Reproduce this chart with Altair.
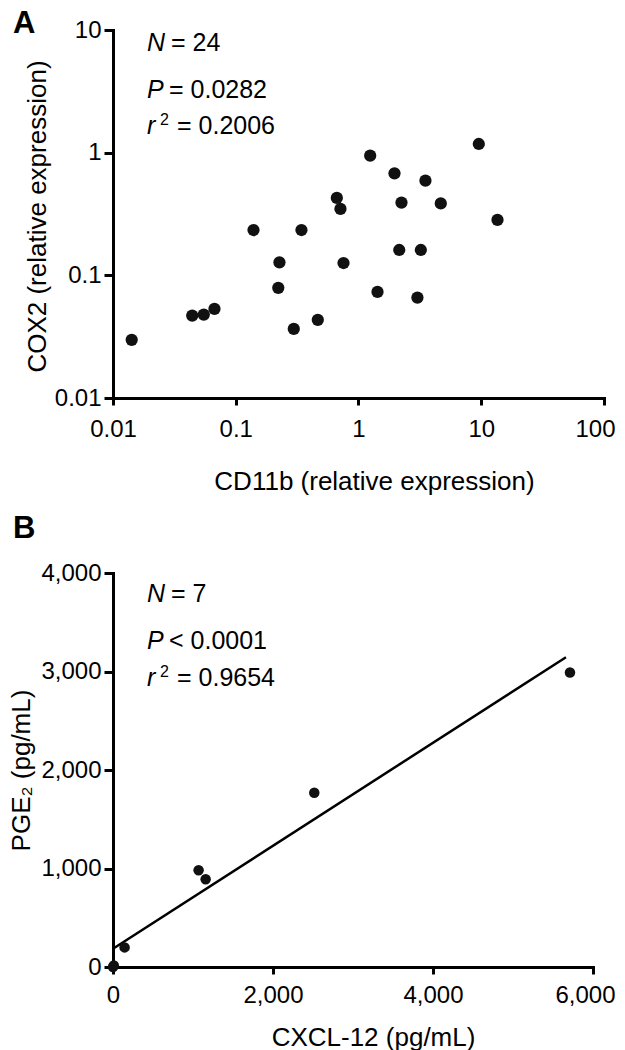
import altair as alt
import pandas as pd

# Panel A data
cd11b = [0.0142, 0.0442, 0.0549, 0.0671, 0.1395, 0.227, 0.222, 0.343, 0.297, 0.466,
         0.666, 0.713, 0.755, 1.245, 1.428, 1.964, 2.24, 2.147, 3.51, 3.22, 3.02,
         4.68, 9.55, 13.56]
cox2 = [0.0298, 0.047, 0.0479, 0.0533, 0.234, 0.1277, 0.0791, 0.234, 0.0366, 0.0434,
        0.428, 0.348, 0.126, 0.945, 0.0733, 0.678, 0.392, 0.161, 0.591, 0.161, 0.0659,
        0.386, 1.177, 0.283]
a_ticks_x = [0.01, 0.1, 1, 10, 100]
a_ticks_y = [0.01, 0.1, 1, 10]

# Panel B data
cxcl12 = [0, 10, 145, 1070, 1158, 2516, 5712]
pge2 = [0, 15, 199, 982, 891, 1769, 2990]
b_ticks_x = [0, 2000, 4000, 6000]
b_ticks_y = [0, 1000, 2000, 3000, 4000]

FONT = "Liberation Sans"
ANN = 25

dfA = pd.DataFrame({"cd11b": cd11b, "cox2": cox2})
dfB = pd.DataFrame({"cxcl12": cxcl12, "pge2": pge2})
one = pd.DataFrame({"k": [0]})


def txt(s, x, y, size=ANN, style="normal", weight="normal"):
    return alt.Chart(one).mark_text(
        text=s, align="left", baseline="alphabetic", fontSize=size,
        fontStyle=style, fontWeight=weight, font=FONT, color="black"
    ).encode(x=alt.value(x), y=alt.value(y))


def last_align(maxv):
    return {"condition": {"test": f"datum.value >= {maxv}", "value": "right"}, "value": "center"}


def last_offset(maxv, off):
    return {"condition": {"test": f"datum.value >= {maxv}", "value": off}, "value": 0}


WA, HA = 491, 368
WB, HB = 480, 394

ptsA = alt.Chart(dfA).mark_circle(size=150, color="#111111", opacity=1).encode(
    x=alt.X("cd11b:Q", scale=alt.Scale(type="log", domain=[0.01, 100], nice=False),
            axis=alt.Axis(values=a_ticks_x, format="~g", tickSize=7, labelPadding=12,
                          labelAlign=last_align(100), labelOffset=last_offset(100, 11),
                          title="CD11b (relative expression)", titleX=261, titleY=91,
                          titleBaseline="alphabetic", titleAlign="center")),
    y=alt.Y("cox2:Q", scale=alt.Scale(type="log", domain=[0.01, 10], nice=False),
            axis=alt.Axis(values=a_ticks_y, format="~g", tickSize=9, labelPadding=3,
                          title="COX2 (relative expression)", titleX=-68, titleY=HA / 2 + 2,
                          titleBaseline="alphabetic", titleAlign="center", titleAngle=-90)),
)

panelA = alt.layer(
    ptsA,
    txt("N", 34, 21, style="italic"), txt("= 24", 58, 21),
    txt("P", 34, 68, style="italic"), txt("= 0.0282", 56, 68),
    txt("r", 34, 104, style="italic"), txt("2", 47, 95, size=16), txt("= 0.2006", 64, 104),
    txt("A", -100, 3, size=31, weight="bold"),
).properties(width=WA, height=HA)

baseB = alt.Chart(dfB)
xB = alt.X("cxcl12:Q", scale=alt.Scale(domain=[0, 6000], nice=False),
           axis=alt.Axis(values=b_ticks_x, format=",d", tickSize=7, labelPadding=9,
                         labelAlign=last_align(6000), labelOffset=last_offset(6000, 22),
                         title="CXCL-12 (pg/mL)", titleX=260, titleY=78,
                         titleBaseline="alphabetic", titleAlign="center"))
yB = alt.Y("pge2:Q", scale=alt.Scale(domain=[0, 4000], nice=False),
           axis=alt.Axis(values=b_ticks_y, format=",d", tickSize=9, labelPadding=3,
                         title="PGE₂ (pg/mL)", titleX=-84, titleY=HB / 2,
                         titleBaseline="alphabetic", titleAlign="center", titleAngle=-90))

ptsB = baseB.mark_circle(size=110, color="#111111", opacity=1).encode(x=xB, y=yB)
lineB = baseB.transform_regression("cxcl12", "pge2", extent=[0, 5662]).mark_line(
    color="black", strokeWidth=2.5).encode(x="cxcl12:Q", y="pge2:Q")

panelB = alt.layer(
    lineB, ptsB,
    txt("N", 34, 29, style="italic"), txt("= 7", 58, 29),
    txt("P", 34, 76, style="italic"), txt("< 0.0001", 56, 76),
    txt("r", 34, 113, style="italic"), txt("2", 47, 104, size=16), txt("= 0.9654", 64, 113),
    txt("B", -100, -35, size=31, weight="bold"),
).properties(width=WB, height=HB)

chart = alt.vconcat(panelA, panelB, spacing=19).properties(padding=0).configure(
    font=FONT
).configure_view(stroke=None).configure_axis(
    grid=False, domainColor="black", tickColor="black", labelColor="black",
    titleColor="black", domainWidth=3, tickWidth=3, labelFontSize=24,
    titleFontSize=26, titleFontWeight="normal", labelFont=FONT, titleFont=FONT,
    domainCap="square", labelFlush=False, labelOverlap=False,
)

chart.save("out.html", embed_options={"renderer": "svg", "actions": False})
